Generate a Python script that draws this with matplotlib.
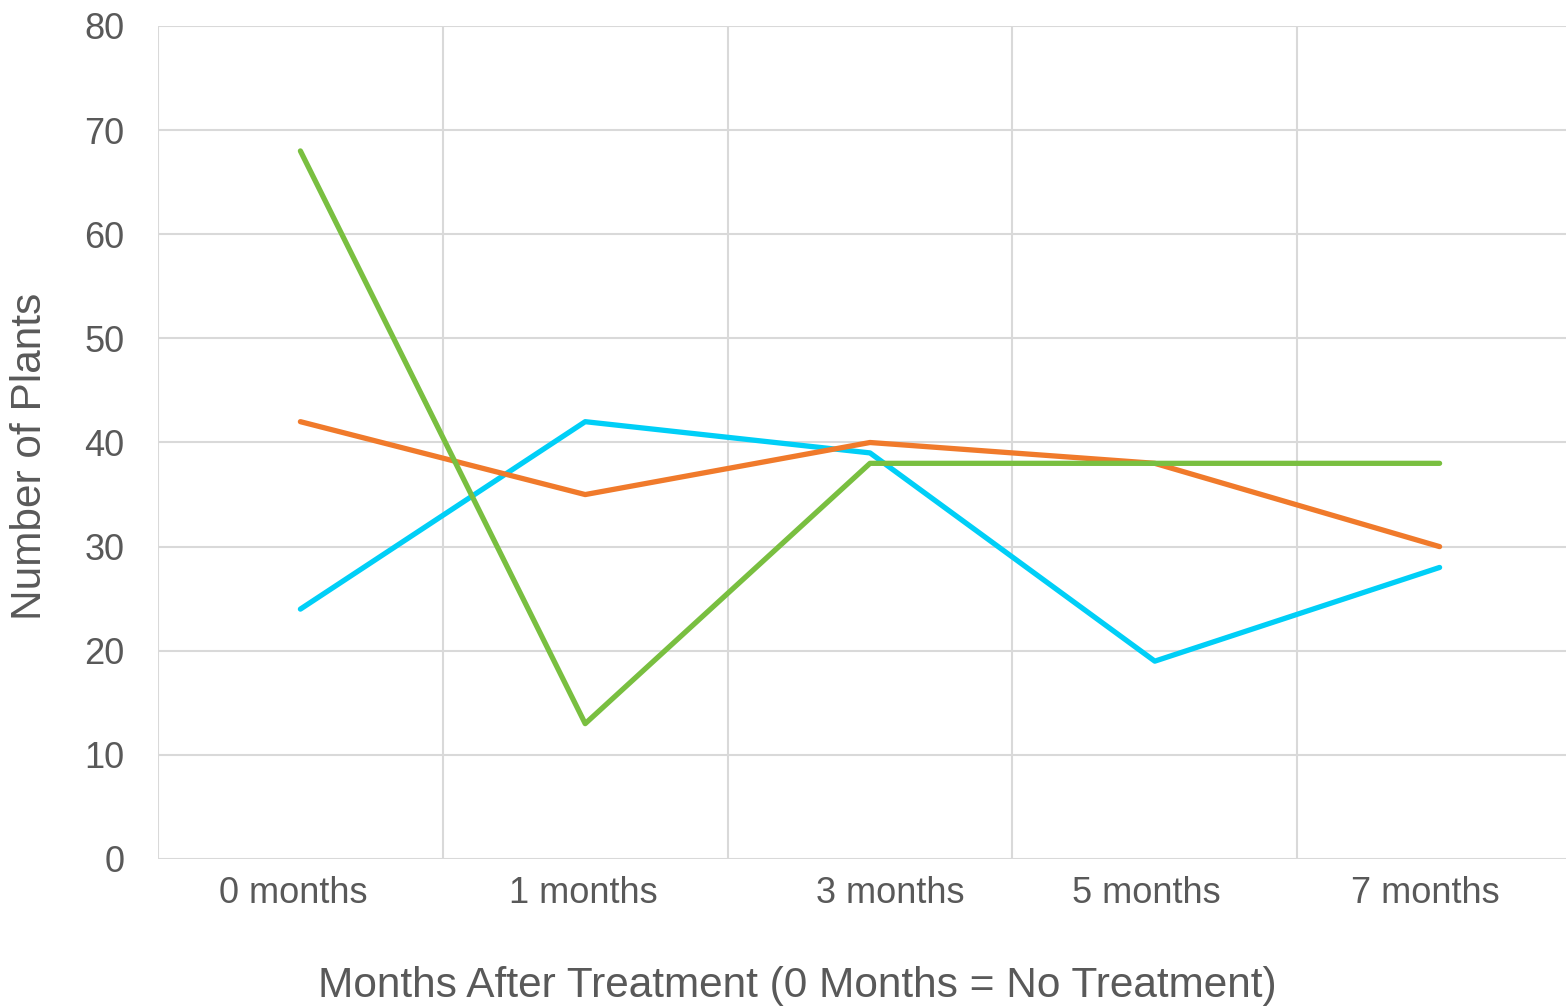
import matplotlib
matplotlib.use("Agg")
import matplotlib.pyplot as plt
import matplotlib.transforms as mtransforms

categories = ["0 months", "1 months", "3 months", "5 months", "7 months"]
series_blue = [24, 42, 39, 19, 28]
series_orange = [42, 35, 40, 38, 30]
series_green = [68, 13, 38, 38, 38]
y_ticks = [0, 10, 20, 30, 40, 50, 60, 70, 80]

plt.rcParams['font.family'] = ['Liberation Sans', 'DejaVu Sans']
W, H = 1566, 1007
fig = plt.figure(figsize=(W / 100, H / 100), dpi=100)
left, right, top, bottom = 158, 1582, 26, 859
ax = fig.add_axes([left / W, 1 - bottom / H, (right - left) / W, (bottom - top) / H])

x = list(range(len(categories)))
grid_c = "#D9D9D9"
text_c = "#595959"

for yv in y_ticks:
    ax.axhline(yv, color=grid_c, lw=1.5, zorder=1)
for i in range(len(categories) + 1):
    ax.axvline(i - 0.5, color=grid_c, lw=1.5, zorder=1)

lw = 3.8
ax.plot(x, series_blue, color="#00CFF7", lw=lw, solid_capstyle="round", solid_joinstyle="round", zorder=3)
ax.plot(x, series_orange, color="#F07A2B", lw=lw, solid_capstyle="round", solid_joinstyle="round", zorder=3)
ax.plot(x, series_green, color="#79BF40", lw=lw, solid_capstyle="round", solid_joinstyle="round", zorder=3)

ax.set_xlim(-0.5, len(categories) - 0.5)
ax.set_ylim(0, 80)
ax.set_yticks(y_ticks)
ax.set_xticks(x)
ax.set_xticklabels(categories)
for s in ax.spines.values():
    s.set_visible(False)
ax.tick_params(axis='both', length=0, labelsize=26, labelcolor=text_c)
ax.tick_params(axis='y', pad=24)
ax.tick_params(axis='x', pad=12)

# small horizontal nudges of category labels as laid out in the original
label_shift_px = [-7, -2, 20, -8, -14]
for lbl, dx in zip(ax.get_xticklabels(), label_shift_px):
    lbl.set_transform(lbl.get_transform() + mtransforms.ScaledTranslation(dx / 100, 0, fig.dpi_scale_trans))

ax.set_xlabel("Months After Treatment (0 Months = No Treatment)", fontsize=30.5, color=text_c, va="center")
ax.xaxis.set_label_coords((797 - left) / (right - left), (bottom - 986) / (bottom - top))
ax.set_ylabel("Number of Plants", fontsize=30.5, color=text_c, va="center")
ax.yaxis.set_label_coords((30 - left) / (right - left), (bottom - 456) / (bottom - top))

fig.savefig("out.png", dpi=100)
